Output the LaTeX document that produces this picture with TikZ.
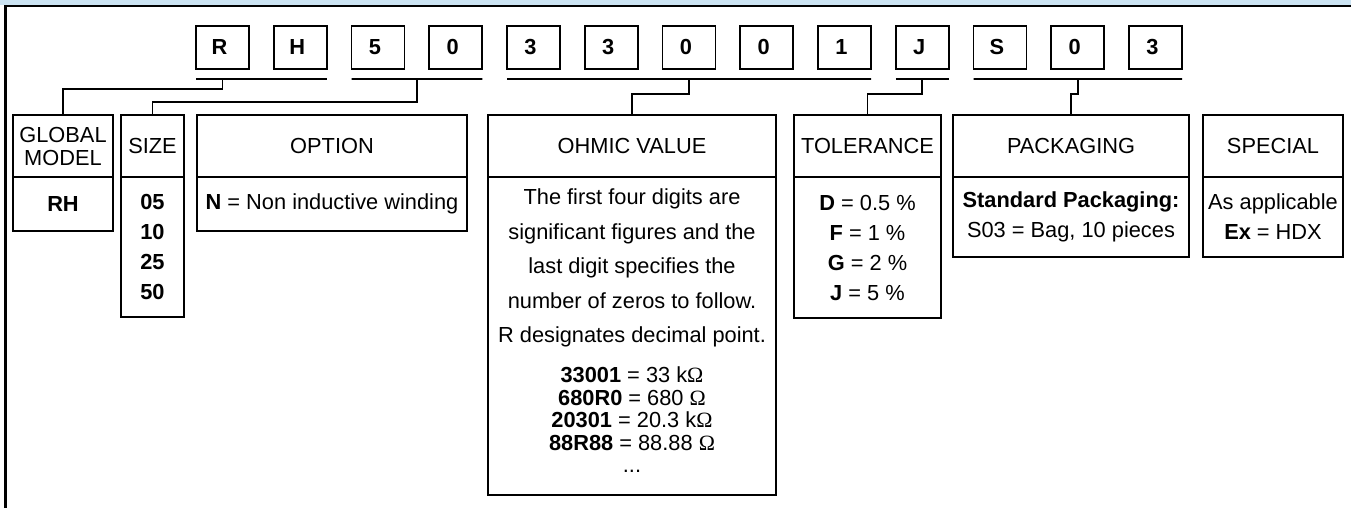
\documentclass[tikz,border=0pt]{standalone}
\usepackage{fontspec}
\setmainfont{Liberation Sans}
\newfontfamily\ohmfont{Liberation Serif}
\newcommand{\ohm}{{\ohmfont Ω}}
\usepackage{xcolor}
\usetikzlibrary{matrix}
\definecolor{bandblue}{RGB}{203,227,242}

\tikzset{
  box/.style={draw, line width=1.8pt, inner sep=0pt, outer sep=0pt, align=center},
  hdr/.style={box, minimum height=62pt, font=\fontsize{21.8}{23}\selectfont},
  bdy/.style={box, anchor=north, font=\fontsize{21.8}{30}\selectfont},
  conn/.style={line width=1.8pt},
}

\begin{document}
\begin{tikzpicture}[x=1pt, y=-1pt]
  \useasboundingbox (0,0) rectangle (1351,508);
  \fill[bandblue] (0,0) rectangle (1351,5);
  \draw[line width=2.4pt] (1351,6) -- (5.5,6) -- (5.5,508);

  \matrix (code) at (689,47.5) [%
    matrix of nodes,
    inner sep=0pt,
    column sep=22.95pt,
    nodes={box, minimum width=53pt, minimum height=43pt, font=\fontsize{21.8}{23}\selectfont\bfseries},
    ampersand replacement=\&
  ]
  {
    R \& H \& 5 \& 0 \& 3 \& 3 \& 0 \& 0 \& 1 \& J \& S \& 0 \& 3 \\
  };

  \node[hdr, minimum width=100pt] (gmh) at (63,146) {GLOBAL\\MODEL};
  \node[bdy, minimum width=100pt, minimum height=54pt] (gmb) at (gmh.south) {\textbf{RH}};

  \node[hdr, minimum width=63pt] (szh) at (152.5,146) {SIZE};
  \node[bdy, minimum width=63pt, minimum height=140pt] (szb) at (szh.south) {\textbf{05}\\\textbf{10}\\\textbf{25}\\\textbf{50}};

  \node[hdr, minimum width=270pt] (oph) at (332,146) {OPTION};
  \node[bdy, minimum width=270pt, minimum height=54pt] (opb) at (oph.south) {\textbf{N} = Non inductive winding};

  \node[hdr, minimum width=288pt] (ohh) at (632,146) {OHMIC VALUE};
  \node[bdy, minimum width=288pt, minimum height=318pt] (ohb) at (ohh.south) {};
  \node[anchor=north, align=center, inner sep=0pt, font=\fontsize{21.8}{34.5}\selectfont] (ohpar) at ([yshift=-12pt]ohb.north)
    {The first four digits are\\significant figures and the\\last digit specifies the\\number of zeros to follow.\\R designates decimal point.};
  \node[anchor=north, align=center, inner sep=0pt, font=\fontsize{21.8}{22.5}\selectfont] (ohlist) at ([yshift=-19pt]ohpar.south)
    {\textbf{33001} = 33 k\ohm\\\textbf{680R0} = 680 \ohm\\\textbf{20301} = 20.3 k\ohm\\\textbf{88R88} = 88.88 \ohm\\...};

  \node[hdr, minimum width=147pt] (toh) at (867.5,146) {TOLERANCE};
  \node[bdy, minimum width=147pt, minimum height=141pt] (tob) at (toh.south) {\textbf{D} = 0.5 \%\\\textbf{F} = 1 \%\\\textbf{G} = 2 \%\\\textbf{J} = 5 \%};

  \node[hdr, minimum width=236pt] (pah) at (1071,146) {PACKAGING};
  \node[bdy, minimum width=236pt, minimum height=80pt] (pab) at (pah.south) {\textbf{Standard Packaging:}\\S03 = Bag, 10 pieces};

  \node[hdr, minimum width=140pt] (sph) at (1273,146) {SPECIAL};
  \node[bdy, minimum width=140pt, minimum height=80pt] (spb) at (sph.south) {As applicable\\\textbf{Ex} = HDX};

  \draw[conn] ([yshift=-10pt]code-1-1.south west) -- ([yshift=-10pt]code-1-2.south east);
  \draw[conn] ([yshift=-10pt]code-1-1.south) -- ++(0,10) -| (gmh.north);
  \draw[conn] ([yshift=-10pt]code-1-3.south west) -- ([yshift=-10pt]code-1-4.south east) coordinate[midway] (u50);
  \draw[conn] (u50) -- ++(0,23) -| (szh.north);
  \draw[conn] ([yshift=-10pt]code-1-5.south west) -- ([yshift=-10pt]code-1-9.south east) coordinate[midway] (uohm);
  \draw[conn] (uohm) -- ++(0,15) -| (ohh.north);
  \draw[conn] ([yshift=-10pt]code-1-10.south west) -- ([yshift=-10pt]code-1-10.south east) coordinate[midway] (utol);
  \draw[conn] (utol) -- ++(0,15) -| (toh.north);
  \draw[conn] ([yshift=-10pt]code-1-11.south west) -- ([yshift=-10pt]code-1-13.south east) coordinate[midway] (upack);
  \draw[conn] (upack) -- ++(0,15) -| (pah.north);
\end{tikzpicture}
\end{document}
